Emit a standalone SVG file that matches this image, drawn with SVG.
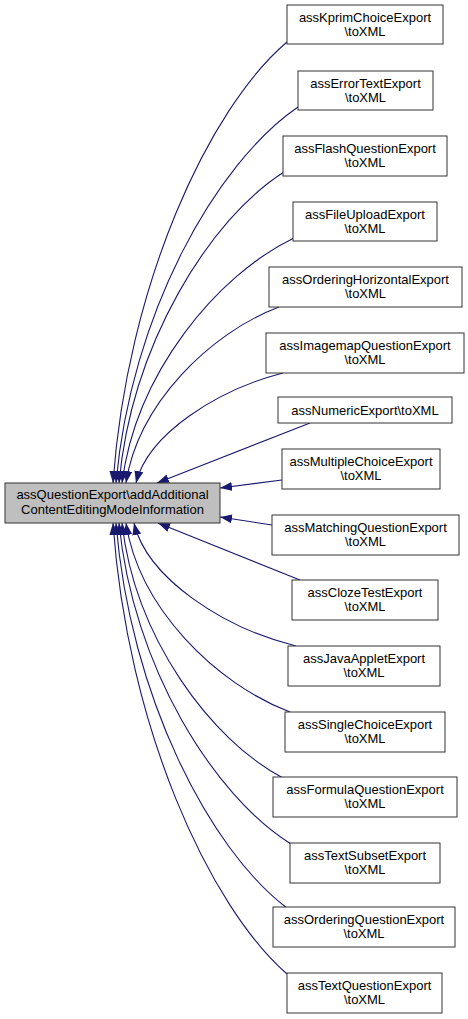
<svg xmlns="http://www.w3.org/2000/svg" width="468" height="1019" viewBox="0 0 468 1019">
<style>
.n rect{fill:#ffffff;stroke:#333333;stroke-width:1}
.m rect{fill:#bfbfbf;stroke:#333333;stroke-width:1}
text{font-family:"Liberation Sans",Arial,sans-serif;font-size:13px;fill:#000000;text-anchor:middle}
.e path{fill:none;stroke:#191970;stroke-width:1.1;marker-end:url(#ah)}
</style>
<defs>
<marker id="ah" markerUnits="userSpaceOnUse" markerWidth="12" markerHeight="9" refX="12" refY="4.5" orient="auto">
<path d="M0,0 L12,4.5 L0,9 z" fill="#191970"/>
</marker>
</defs>
<rect width="468" height="1019" fill="#ffffff"/>
<g id="edges" class="e">
<path d="M287,42 C209,108 127,285 113,483"/>
<path d="M298,107 C216,163 131,314 116,483"/>
<path d="M284,172 C210,219 132,343 119,483"/>
<path d="M294,238 C217,275 136,373 122,483"/>
<path d="M279,307 C210,333 138,404 126,483"/>
<path d="M283,373 C217,390 148,434 136,483"/>
<path d="M310,423 L157,483"/>
<path d="M282,480 L220,488"/>
<path d="M272,525 L220,517"/>
<path d="M300,580 L158,523"/>
<path d="M296,646 C223,628 147,578 134,523"/>
<path d="M290,712 C216,684 139,608 126,523"/>
<path d="M283,778 C211,740 135,638 122,523"/>
<path d="M291,844 C214,796 133,667 119,523"/>
<path d="M287,908 C210,850 130,696 116,523"/>
<path d="M287,974 C209,906 127,726 113,523"/>
</g>
<g id="main" class="m"><rect x="5" y="483" width="215" height="40"/><text x="112.5" y="499">assQuestionExport\addAdditional</text><text x="112.5" y="514">ContentEditingModeInformation</text></g>
<g id="n1" class="n"><rect x="287" y="5" width="156" height="39"/><text x="365" y="22">assKprimChoiceExport</text><text x="365" y="36">\toXML</text></g>
<g id="n2" class="n"><rect x="298" y="71" width="135" height="39"/><text x="365.5" y="88">assErrorTextExport</text><text x="365.5" y="102">\toXML</text></g>
<g id="n3" class="n"><rect x="283" y="136" width="164" height="40"/><text x="365" y="153">assFlashQuestionExport</text><text x="365" y="167">\toXML</text></g>
<g id="n4" class="n"><rect x="293" y="202" width="144" height="39"/><text x="365" y="219">assFileUploadExport</text><text x="365" y="233">\toXML</text></g>
<g id="n5" class="n"><rect x="269" y="267" width="193" height="40"/><text x="365.5" y="284">assOrderingHorizontalExport</text><text x="365.5" y="298">\toXML</text></g>
<g id="n6" class="n"><rect x="266" y="333" width="198" height="40"/><text x="365" y="350">assImagemapQuestionExport</text><text x="365" y="364">\toXML</text></g>
<g id="n7" class="n"><rect x="278" y="397" width="174" height="26"/><text x="365" y="414.5">assNumericExport\toXML</text></g>
<g id="n8" class="n"><rect x="282" y="449" width="158" height="40"/><text x="361" y="466">assMultipleChoiceExport</text><text x="361" y="480">\toXML</text></g>
<g id="n9" class="n"><rect x="272" y="515" width="187" height="40"/><text x="365.5" y="532">assMatchingQuestionExport</text><text x="365.5" y="546">\toXML</text></g>
<g id="n10" class="n"><rect x="292" y="580" width="146" height="40"/><text x="365" y="597">assClozeTestExport</text><text x="365" y="611">\toXML</text></g>
<g id="n11" class="n"><rect x="288" y="646" width="152" height="40"/><text x="364" y="663">assJavaAppletExport</text><text x="364" y="677">\toXML</text></g>
<g id="n12" class="n"><rect x="285" y="712" width="160" height="40"/><text x="365" y="729">assSingleChoiceExport</text><text x="365" y="743">\toXML</text></g>
<g id="n13" class="n"><rect x="273" y="777" width="184" height="40"/><text x="365" y="794">assFormulaQuestionExport</text><text x="365" y="808">\toXML</text></g>
<g id="n14" class="n"><rect x="290" y="843" width="150" height="40"/><text x="365" y="860">assTextSubsetExport</text><text x="365" y="874">\toXML</text></g>
<g id="n15" class="n"><rect x="273" y="907" width="182" height="40"/><text x="364" y="924">assOrderingQuestionExport</text><text x="364" y="938">\toXML</text></g>
<g id="n16" class="n"><rect x="287" y="973" width="155" height="40"/><text x="364.5" y="990">assTextQuestionExport</text><text x="364.5" y="1004">\toXML</text></g>
</svg>
